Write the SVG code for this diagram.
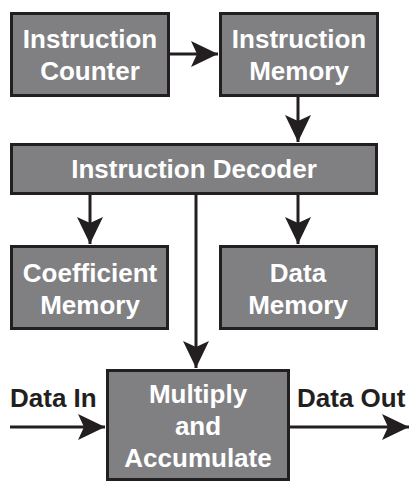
<svg xmlns="http://www.w3.org/2000/svg" width="409" height="481" viewBox="0 0 409 481">
<style>
.box{fill:#808083;stroke:#231f20;stroke-width:3}
.t{font-family:"Liberation Sans",Arial,sans-serif;font-weight:bold;font-size:26px;fill:#ffffff;text-anchor:middle}
.lbl{font-family:"Liberation Sans",Arial,sans-serif;font-weight:bold;font-size:26px;fill:#231f20}
.c{stroke:#231f20;stroke-width:3;fill:none;marker-end:url(#ah)}
</style>
<defs>
<marker id="ah" markerUnits="userSpaceOnUse" markerWidth="30" markerHeight="30" viewBox="-28 -14 30 28" refX="0" refY="0" orient="auto">
<path d="M0,0 L-27,-13 L-21,0 L-27,13 Z" fill="#231f20"/>
</marker>
</defs>
<rect width="409" height="481" fill="#ffffff"/>
<g id="connectors">
<line class="c" x1="170" y1="54" x2="218" y2="54"/>
<line class="c" x1="298" y1="97" x2="298" y2="142"/>
<line class="c" x1="90" y1="195" x2="90" y2="244"/>
<line class="c" x1="298" y1="195" x2="298" y2="244"/>
<line class="c" x1="196" y1="195" x2="196" y2="368"/>
<line class="c" x1="10" y1="427" x2="105" y2="427"/>
<line class="c" x1="290" y1="427" x2="409" y2="427"/>
</g>
<g id="instruction-counter">
<rect class="box" x="11.5" y="13.5" width="157" height="82"/>
<text class="t" x="90" y="48">Instruction</text>
<text class="t" x="90" y="80">Counter</text>
</g>
<g id="instruction-memory">
<rect class="box" x="220.5" y="13.5" width="157" height="82"/>
<text class="t" x="299" y="48">Instruction</text>
<text class="t" x="299" y="80">Memory</text>
</g>
<g id="instruction-decoder">
<rect class="box" x="11.5" y="144.5" width="365" height="49"/>
<text class="t" x="194" y="178">Instruction Decoder</text>
</g>
<g id="coefficient-memory">
<rect class="box" x="11.5" y="246.5" width="156" height="82"/>
<text class="t" x="90" y="282">Coefficient</text>
<text class="t" x="90" y="314">Memory</text>
</g>
<g id="data-memory">
<rect class="box" x="220.5" y="246.5" width="156" height="82"/>
<text class="t" x="298" y="282">Data</text>
<text class="t" x="298" y="314">Memory</text>
</g>
<g id="mac">
<rect class="box" x="107.5" y="370.5" width="181" height="109"/>
<text class="t" x="198" y="403">Multiply</text>
<text class="t" x="198" y="435">and</text>
<text class="t" x="198" y="467">Accumulate</text>
</g>
<g id="labels">
<text class="lbl" x="10" y="407">Data In</text>
<text class="lbl" x="297" y="407">Data Out</text>
</g>
</svg>
